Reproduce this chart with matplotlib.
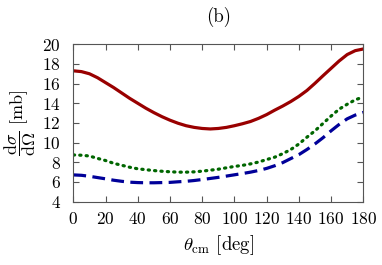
import numpy as np
import matplotlib
matplotlib.use('Agg')
import matplotlib.pyplot as plt

plt.rcParams['font.family'] = 'serif'
plt.rcParams['font.serif'] = ['cmr10', 'DejaVu Serif']
plt.rcParams['mathtext.fontset'] = 'cm'
plt.rcParams['axes.formatter.use_mathtext'] = True

# scattering angle grid [deg]
theta = list(range(0, 181, 5))
# dsigma/dOmega [mb]
red = [17.30, 17.22, 17.00, 16.60, 16.10, 15.60, 15.05, 14.50, 14.00, 13.50,
       13.05, 12.64, 12.28, 11.97, 11.72, 11.55, 11.44, 11.39, 11.44, 11.55,
       11.72, 11.92, 12.15, 12.47, 12.85, 13.30, 13.72, 14.18, 14.70, 15.30,
       16.03, 16.80, 17.55, 18.30, 18.95, 19.35, 19.52]
green = [8.75, 8.72, 8.64, 8.40, 8.18, 7.90, 7.70, 7.50, 7.34, 7.25,
         7.16, 7.09, 7.04, 7.00, 7.00, 7.03, 7.10, 7.20, 7.30, 7.44,
         7.58, 7.69, 7.84, 8.03, 8.28, 8.52, 8.88, 9.30, 9.86, 10.55,
         11.20, 11.95, 12.70, 13.40, 13.90, 14.35, 14.65]
blue = [6.72, 6.68, 6.58, 6.45, 6.32, 6.18, 6.07, 5.98, 5.94, 5.92,
        5.92, 5.94, 5.96, 6.02, 6.07, 6.15, 6.25, 6.36, 6.47, 6.60,
        6.73, 6.86, 7.00, 7.17, 7.38, 7.65, 7.97, 8.38, 8.78, 9.30,
        9.87, 10.50, 11.20, 11.85, 12.42, 12.80, 13.07]

fig = plt.figure(figsize=(3.82, 2.65), dpi=100)
ax = fig.add_axes([0.192, 0.239, 0.759, 0.594])

ax.plot(theta, red, color='#990000', lw=2.3, solid_capstyle='butt')
ax.plot(theta, green, color='#006600', lw=2.3, ls=(0, (0.4, 1.6)), dash_capstyle='round')
ax.plot(theta, blue, color='#000099', lw=2.3, ls=(0, (4.0, 2.0)))

ax.set_xlim(0, 180)
ax.set_ylim(4, 20)
ax.set_xticks(range(0, 181, 20))
ax.set_yticks(range(4, 21, 2))
ax.tick_params(direction='in', top=True, right=True, labelsize=12.5, length=4,
               color='#555555')
ax.tick_params(axis='x', pad=7)
ax.tick_params(axis='y', pad=9)
for s in ax.spines.values():
    s.set_color('#555555')
    s.set_linewidth(0.8)

ax.set_xlabel(r'$\theta_{\rm cm}$ [deg]', fontsize=13.5, labelpad=4)
ax.set_ylabel(r'$\dfrac{\mathrm{d}\sigma}{\mathrm{d}\Omega}$ [mb]', fontsize=13, labelpad=3)
ax.set_title('(b)', fontsize=13.5, pad=16)

fig.savefig('out.png', dpi=100)
